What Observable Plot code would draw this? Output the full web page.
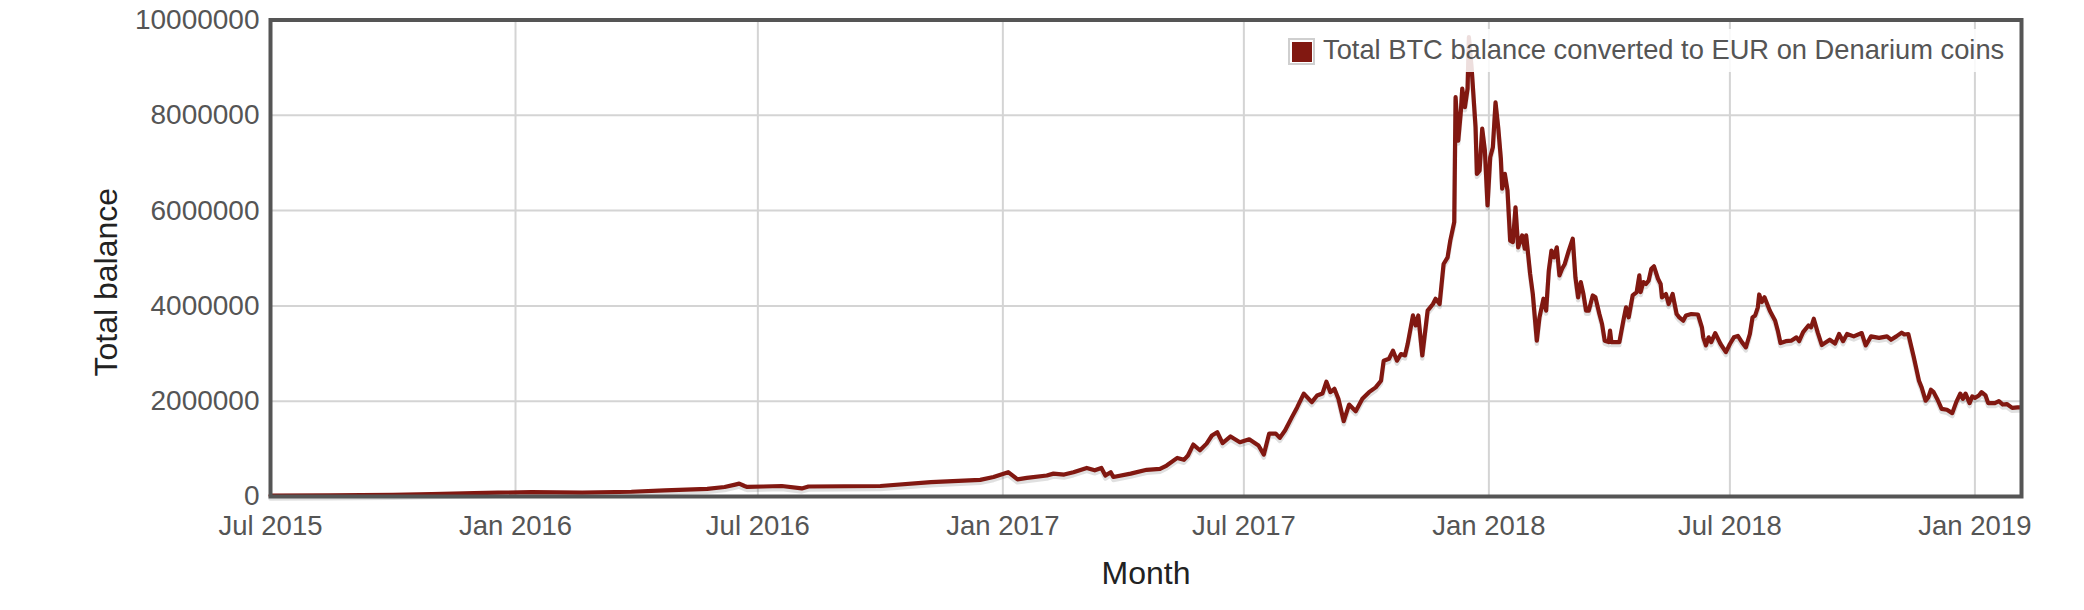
<!DOCTYPE html>
<html>
<head>
<meta charset="utf-8">
<script src="https://cdn.jsdelivr.net/npm/d3@7"></script>
<script src="https://cdn.jsdelivr.net/npm/@observablehq/plot@0.6"></script>
<style>
  html, body { margin: 0; padding: 0; background: #fff; }
  #wrap { position: relative; width: 2084px; height: 610px; font-family: "Liberation Sans", Arial, sans-serif; }
  #legend { position: absolute; left: 1280px; top: 29px; width: 735px; height: 43px; background: rgba(255,255,255,0.86); }
  #legend .sw { position: absolute; left: 8px; top: 9px; width: 20px; height: 20px; border: 2px solid #cfcfcf; padding: 1.5px; background: #fff; }
  #legend .sw i { display: block; width: 100%; height: 100%; background: #811811; }
  #legend .lab { position: absolute; left: 43px; top: 5px; font-size: 27.3px; line-height: 32px; color: #555; white-space: nowrap; }
</style>
</head>
<body>
<div id="wrap"></div>
<script>
const seriesName = "Total BTC balance converted to EUR on Denarium coins";
const xLabel = "Month";
const yLabel = "Total balance";
const xTickDates = ["2015-07-01","2016-01-01","2016-07-01","2017-01-01","2017-07-01","2018-01-01","2018-07-01","2019-01-01"];
const yTickValues = [0, 2000000, 4000000, 6000000, 8000000, 10000000];

const dates = [
"2015-07-01","2015-08-15","2015-10-01","2015-10-30","2015-12-01","2015-12-19","2016-01-13","2016-02-20","2016-03-28","2016-04-22",
"2016-05-24","2016-06-06","2016-06-14","2016-06-17","2016-06-21","2016-06-23","2016-07-05","2016-07-19","2016-08-03","2016-08-08",
"2016-10-01","2016-11-08","2016-12-15","2016-12-25","2017-01-05","2017-01-12","2017-01-19","2017-02-03","2017-02-08","2017-02-16",
"2017-02-23","2017-03-05","2017-03-11","2017-03-16","2017-03-19","2017-03-23","2017-03-25","2017-04-07","2017-04-19","2017-04-29",
"2017-05-04","2017-05-12","2017-05-17","2017-05-20","2017-05-24","2017-05-29","2017-06-03","2017-06-07","2017-06-11","2017-06-15",
"2017-06-21","2017-06-28","2017-07-05","2017-07-12","2017-07-16","2017-07-20","2017-07-25","2017-07-28","2017-08-01","2017-08-06",
"2017-08-10","2017-08-15","2017-08-21","2017-08-25","2017-08-29","2017-09-01","2017-09-04","2017-09-07","2017-09-10","2017-09-14",
"2017-09-18","2017-09-23","2017-09-28","2017-10-03","2017-10-08","2017-10-12","2017-10-14","2017-10-18","2017-10-21","2017-10-24",
"2017-10-27","2017-10-30","2017-11-01","2017-11-05","2017-11-07","2017-11-09","2017-11-12","2017-11-16","2017-11-20","2017-11-22",
"2017-11-25","2017-11-28","2017-12-01","2017-12-03","2017-12-06","2017-12-07","2017-12-09","2017-12-11","2017-12-12","2017-12-14",
"2017-12-16","2017-12-17","2017-12-19","2017-12-22","2017-12-23","2017-12-25","2017-12-27","2017-12-29","2017-12-31","2018-01-02",
"2018-01-04","2018-01-06","2018-01-08","2018-01-10","2018-01-11","2018-01-13","2018-01-15","2018-01-17","2018-01-19","2018-01-21",
"2018-01-23","2018-01-26","2018-01-28","2018-01-29","2018-02-01","2018-02-03","2018-02-06","2018-02-08","2018-02-11","2018-02-13",
"2018-02-15","2018-02-17","2018-02-19","2018-02-21","2018-02-23","2018-02-25","2018-02-27","2018-03-02","2018-03-05","2018-03-07",
"2018-03-09","2018-03-11","2018-03-13","2018-03-15","2018-03-17","2018-03-20","2018-03-22","2018-03-25","2018-03-27","2018-03-29",
"2018-04-01","2018-04-02","2018-04-03","2018-04-09","2018-04-12","2018-04-14","2018-04-16","2018-04-19","2018-04-22","2018-04-24",
"2018-04-25","2018-04-27","2018-04-29","2018-05-01","2018-05-03","2018-05-05","2018-05-08","2018-05-10","2018-05-11","2018-05-14",
"2018-05-16","2018-05-19","2018-05-22","2018-05-24","2018-05-27","2018-05-29","2018-06-02","2018-06-07","2018-06-10","2018-06-11",
"2018-06-13","2018-06-15","2018-06-17","2018-06-20","2018-06-24","2018-06-28","2018-07-01","2018-07-04","2018-07-07","2018-07-10",
"2018-07-13","2018-07-16","2018-07-18","2018-07-20","2018-07-22","2018-07-23","2018-07-25","2018-07-27","2018-07-31","2018-08-04",
"2018-08-06","2018-08-08","2018-08-12","2018-08-16","2018-08-20","2018-08-22","2018-08-25","2018-08-29","2018-08-31","2018-09-02",
"2018-09-05","2018-09-08","2018-09-14","2018-09-18","2018-09-21","2018-09-24","2018-09-27","2018-10-02","2018-10-08","2018-10-11",
"2018-10-15","2018-10-21","2018-10-27","2018-10-30","2018-11-03","2018-11-07","2018-11-09","2018-11-12","2018-11-16","2018-11-20",
"2018-11-22","2018-11-25","2018-11-27","2018-11-29","2018-12-01","2018-12-04","2018-12-07","2018-12-11","2018-12-15","2018-12-18",
"2018-12-21","2018-12-23","2018-12-25","2018-12-28","2018-12-30","2019-01-01","2019-01-04","2019-01-06","2019-01-09","2019-01-11",
"2019-01-16","2019-01-19","2019-01-22","2019-01-25","2019-01-29","2019-02-02","2019-02-04"
];

const balances = [
20000,25000,35000,50000,70000,80000,90000,80000,100000,130000,
160000,200000,250000,270000,220000,200000,210000,220000,170000,210000,
220000,300000,350000,410000,510000,360000,390000,440000,480000,460000,
510000,600000,550000,600000,440000,510000,410000,480000,560000,580000,
650000,810000,770000,860000,1090000,970000,1110000,1280000,1350000,1120000,
1260000,1140000,1200000,1070000,880000,1320000,1320000,1230000,1390000,1660000,
1870000,2160000,1980000,2120000,2160000,2410000,2190000,2260000,2050000,1580000,
1930000,1790000,2050000,2190000,2290000,2430000,2850000,2890000,3060000,2850000,
2990000,2960000,3200000,3800000,3590000,3800000,2960000,3900000,4040000,4150000,
4040000,4880000,5020000,5370000,5760000,8380000,7470000,8100000,8560000,8170000,
8560000,9640000,9010000,7750000,6770000,6840000,7720000,7260000,6110000,7120000,
7330000,8270000,7750000,7090000,6460000,6770000,6420000,5370000,5340000,6070000,
5230000,5480000,5200000,5480000,4670000,4250000,3270000,3760000,4150000,3900000,
4740000,5160000,5020000,5230000,4640000,4780000,4880000,5160000,5410000,4600000,
4180000,4500000,4250000,3900000,3900000,4220000,4180000,3830000,3620000,3270000,
3240000,3480000,3240000,3240000,3690000,3970000,3760000,4220000,4290000,4640000,
4290000,4500000,4460000,4530000,4780000,4830000,4570000,4460000,4180000,4250000,
4040000,4250000,3830000,3760000,3690000,3800000,3830000,3820000,3550000,3340000,
3170000,3340000,3240000,3430000,3200000,3030000,3200000,3340000,3370000,3240000,
3130000,3410000,3760000,3800000,3970000,4240000,4080000,4180000,3900000,3690000,
3480000,3220000,3260000,3270000,3340000,3260000,3450000,3590000,3550000,3730000,
3440000,3180000,3290000,3210000,3410000,3260000,3410000,3360000,3430000,3170000,
3360000,3330000,3360000,3290000,3360000,3440000,3400000,3410000,2940000,2430000,
2290000,2010000,2080000,2240000,2190000,2030000,1840000,1820000,1750000,1980000,
2160000,2050000,2160000,1960000,2100000,2070000,2120000,2190000,2120000,1960000,
1960000,2000000,1930000,1940000,1860000,1870000,1870000
];

const data = dates.map((d, i) => ({date: new Date(d + "T00:00:00Z"), value: balances[i]}));
const xTicks = xTickDates.map(d => new Date(d + "T00:00:00Z"));

const plot = Plot.plot({
  width: 2084,
  height: 610,
  marginLeft: 270,
  marginRight: 63,
  marginTop: 19.5,
  marginBottom: 114,
  style: {fontFamily: "'Liberation Sans', Arial, sans-serif", fontSize: "27px", color: "#555", background: "#fff", overflow: "visible"},
  x: {type: "utc", domain: [new Date("2015-07-01T00:00:00Z"), new Date("2019-02-05T00:00:00Z")], label: null},
  y: {domain: [0, 10000000], label: null},
  marks: [
    Plot.gridX(xTicks, {stroke: "#d4d4d4", strokeOpacity: 1, strokeWidth: 2}),
    Plot.gridY(yTickValues, {stroke: "#d4d4d4", strokeOpacity: 1, strokeWidth: 2}),
    Plot.lineY(data, {x: "date", y: "value", stroke: "#000", strokeOpacity: 0.12, strokeWidth: 4.5, dy: 3, strokeLinejoin: "round", curve: "linear"}),
    Plot.lineY(data, {x: "date", y: "value", stroke: "#811811", strokeWidth: 4.2, strokeLinejoin: "round", curve: "linear"}),
    Plot.frame({stroke: "#555", strokeWidth: 4}),
    Plot.axisX(xTicks, {tickSize: 0, tickPadding: 19, tickFormat: d3.utcFormat("%b %Y"), fill: "#555", fontSize: 27.5, label: null}),
    Plot.axisY(yTickValues, {tickSize: 0, tickPadding: 11, tickFormat: d => String(d), fill: "#555", fontSize: 28, label: null}),
    Plot.text([yLabel], {frameAnchor: "left", dx: -164, dy: 24, rotate: -90, textAnchor: "middle", lineAnchor: "middle", fontSize: 32, fill: "#222"}),
    Plot.text([xLabel], {frameAnchor: "bottom", dy: 77, textAnchor: "middle", lineAnchor: "middle", fontSize: 32, fill: "#222"})
  ]
});

const wrap = document.getElementById("wrap");
wrap.appendChild(plot);
const legend = document.createElement("div");
legend.id = "legend";
legend.innerHTML = `<span class="sw"><i></i></span><span class="lab"></span>`;
legend.querySelector(".lab").textContent = seriesName;
wrap.appendChild(legend);
</script>
</body>
</html>
